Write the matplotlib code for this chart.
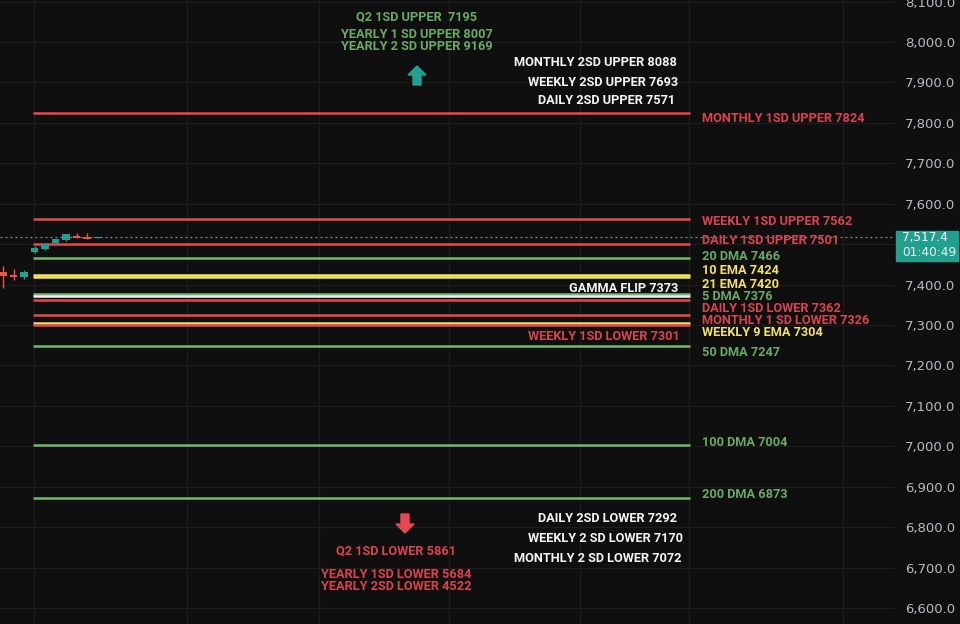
import matplotlib
matplotlib.use("Agg")
from matplotlib import pyplot as plt
from matplotlib.patches import Polygon, Rectangle
import numpy as np

# candles (bar index, open, high, low, close)
c_open = [7430, 7425, 7420, 7481, 7489, 7502, 7510, 7521, 7518, 7516]
c_high = [7446, 7438, 7436, 7495, 7502, 7514, 7526, 7528, 7527, 7519]
c_low = [7392, 7411, 7414, 7478, 7486, 7500, 7508, 7515, 7513, 7515]
c_close = [7421, 7420, 7430, 7491, 7500, 7512, 7524, 7516, 7514, 7517.4]
last_price = 7517.4
timer = "01:40:49"

# horizontal levels
lvl_values = [7824, 7562, 7501, 7466, 7424, 7420, 7376, 7373, 7362, 7326, 7304, 7301, 7247, 7004, 6873]
lvl_colors = ["red", "red", "red", "green", "yellow", "yellow", "green", "white",
              "red", "red", "yellow", "red", "green", "green", "green"]

# labels to the right of the lines
right_labels = ["MONTHLY 1SD UPPER 7824", "WEEKLY 1SD UPPER 7562", "DAILY 1SD UPPER 7501",
                "20 DMA 7466", "10 EMA 7424", "21 EMA 7420", "5 DMA 7376",
                "DAILY 1SD LOWER 7362", "MONTHLY 1 SD LOWER 7326", "WEEKLY 9 EMA 7304",
                "50 DMA 7247", "100 DMA 7004", "200 DMA 6873"]
right_colors = ["red", "red", "red", "green", "yellow", "yellow", "green", "red", "red",
                "yellow", "green", "green", "green"]

# labels right-aligned inside the chart
inner_labels = ["MONTHLY 2SD UPPER 8088", "WEEKLY 2SD UPPER 7693", "DAILY 2SD UPPER 7571",
                "GAMMA FLIP 7373", "WEEKLY 1SD LOWER 7301",
                "DAILY 2SD LOWER 7292", "WEEKLY 2 SD LOWER 7170", "MONTHLY 2 SD LOWER 7072"]
inner_colors = ["white", "white", "white", "white", "red", "white", "white", "white"]

up_labels = ["Q2 1SD UPPER  7195", "YEARLY 1 SD UPPER 8007", "YEARLY 2 SD UPPER 9169"]
down_labels = ["Q2 1SD LOWER 5861", "YEARLY 1SD LOWER 5684", "YEARLY 2SD LOWER 4522"]

price_ticks = list(range(6600, 8101, 100))

pal = {"red": "#e5484f", "green": "#72b86e", "yellow": "#f4e35c", "white": "#f2f2f2"}
txt = {"red": "#d9434e", "green": "#6aa966", "yellow": "#f3e06a", "white": "#f4f4f4"}
teal = "#22a08f"
cred = "#ef5350"
bg = "#0f0f0f"

W, H = 960, 624
fig = plt.figure(figsize=(9.6, 6.24), dpi=100, facecolor=bg)
ax = fig.add_axes([0, 0, 895 / W, 1])
ax.set_facecolor(bg)

bar_px = 10.5
x0_px = 3
def px2x(p):
    return (p - x0_px) / bar_px

def fx(p):
    return p / W

def fy(p):
    return 1 - p / H

ax.set_xlim(px2x(0), px2x(895))
ax.set_ylim(6560.5, 8104)

# grid
for t in price_ticks:
    ax.axhline(t, color="#1d1d1d", lw=0.9, zorder=0)
for gx in [34, 187, 319, 449, 580, 689, 843]:
    ax.axvline(px2x(gx), color="#1d1d1d", lw=0.9, zorder=0)

# levels
for v, c in zip(lvl_values, lvl_colors):
    ax.hlines(v, px2x(33), px2x(690), color=pal[c], lw=1.8, zorder=2)

# last price dotted
ax.axhline(last_price, color="#8a8d95", lw=0.9, ls=(0, (1.5, 2.5)), zorder=1)

# candles
idx = np.arange(len(c_open))
for i in idx:
    col = teal if c_close[i] >= c_open[i] else cred
    ax.vlines(i, c_low[i], c_high[i], color=col, lw=1, zorder=3)
    lo = min(c_open[i], c_close[i])
    hgt = max(abs(c_close[i] - c_open[i]), 1.5)
    ax.bar(i, hgt, bottom=lo, width=0.7, color=col, zorder=4)

# axis (the 7,500 label sits under the price tag, so leave it blank)
ax.yaxis.tick_right()
ax.set_yticks(price_ticks)
ax.set_yticklabels(["" if abs(t - last_price) < 40 else f"{t:,.1f}" for t in price_ticks])
ax.tick_params(axis="y", length=0, pad=7, labelsize=9.5, labelcolor="#b8bbc2")
ax.set_xticks([])
for s in ax.spines.values():
    s.set_visible(False)

font = dict(family=["Roboto", "DejaVu Sans"], fontweight="bold", fontsize=9.2)

# right labels
right_y = [118, 221, 241, 256, 270, 285, 297, 309, 321, 333, 353, 443, 494]
for s, c, y in zip(right_labels, right_colors, right_y):
    fig.text(fx(702), fy(y), s, color=txt[c], ha="left", va="center", **font)

inner_x = [677, 678, 675, 678, 680, 677, 683, 682]
inner_y = [63, 82, 101, 288, 336, 518, 539, 559]
for s, c, x, y in zip(inner_labels, inner_colors, inner_x, inner_y):
    fig.text(fx(x), fy(y), s, color=txt[c], ha="right", va="center", **font)

for s, y in zip(up_labels, [17, 35, 47]):
    fig.text(fx(417), fy(y), s, color=txt["green"], ha="center", va="center", **font)
for s, y in zip(down_labels, [551, 574, 586]):
    fig.text(fx(396), fy(y), s, color=txt["red"], ha="center", va="center", **font)

def arrow(cx, tip, base, color):
    d = 1 if base > tip else -1
    hl = 9
    pts = [(cx, tip), (cx + 9, tip + d * hl), (cx + 4, tip + d * hl), (cx + 4, base),
           (cx - 4, base), (cx - 4, tip + d * hl), (cx - 9, tip + d * hl)]
    fig.add_artist(Polygon([(fx(a), fy(b)) for a, b in pts], closed=True,
                           transform=fig.transFigure, color=color))

arrow(417, 66, 85, teal)
arrow(405, 533, 514, "#e5484f")

# price tag
fig.add_artist(Rectangle((fx(896), fy(261)), fx(62), 30 / H, transform=fig.transFigure,
                         color=teal, zorder=5))
fig.text(fx(902), fy(238), f"{last_price:,.1f}", color="white", fontsize=8.7,
         ha="left", va="center", zorder=6)
fig.text(fx(902), fy(253), timer, color="#e8f5f3", fontsize=8.7,
         ha="left", va="center", zorder=6)

fig.savefig("out.png", dpi=100, facecolor=bg)
